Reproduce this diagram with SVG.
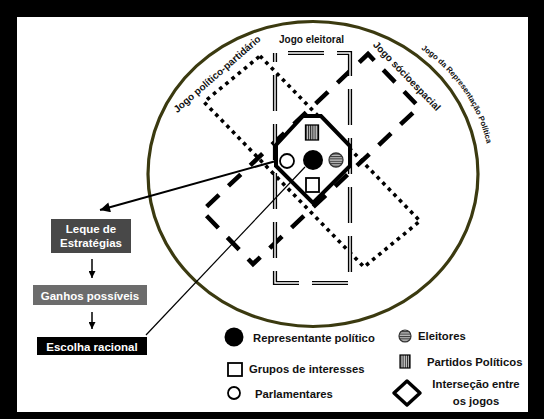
<svg xmlns="http://www.w3.org/2000/svg" width="544" height="419" viewBox="0 0 544 419">
<defs>
<style>
text{font-family:"Liberation Sans",Arial,sans-serif;font-weight:bold;fill:#111}
.lg{font-size:11.3px}
.box{font-size:11.5px;fill:#fff;text-anchor:middle}
.jogo{font-size:10px}
.ol{stroke:#000;fill:#fff;stroke-width:1.8}
</style>
<pattern id="hstripe" width="4" height="2.4" patternUnits="userSpaceOnUse">
<rect width="4" height="2.4" fill="#bbb"/><rect width="4" height="1" fill="#333"/>
</pattern>
<pattern id="vstripe" width="2.2" height="4" patternUnits="userSpaceOnUse">
<rect width="2.2" height="4" fill="#ccc"/><rect width="1" height="4" fill="#222"/>
</pattern>
<marker id="ah" viewBox="0 0 10 10" refX="10" refY="5" markerWidth="13" markerHeight="10" markerUnits="userSpaceOnUse" orient="auto">
<path d="M0,0 L10,5 L0,10 z" fill="#000"/>
</marker>
<marker id="ahs" viewBox="0 0 10 10" refX="10" refY="5" markerWidth="7" markerHeight="7" markerUnits="userSpaceOnUse" orient="auto">
<path d="M0,0 L10,5 L0,10 z" fill="#000"/>
</marker>
</defs>
<rect x="0" y="0" width="544" height="419" fill="#000"/>
<rect x="17" y="17" width="511" height="395" fill="#fff"/>

<g id="representacao">
<ellipse cx="313" cy="174" rx="165" ry="152.5" fill="none" stroke="#3b3a10" stroke-width="3.2"/>
<path id="arcpath" d="M421,49 A168 156 0 0 1 490,172" fill="none"/>
<text style="font-size:7.8px"><textPath href="#arcpath">Jogo da Representação Política</textPath></text>
</g>

<g id="jogo-partidario">
<path d="M260,56 L420,221 L364,267 L204,102 Z" fill="none" stroke="#000" stroke-width="3.6" stroke-dasharray="3.6 4.4"/>
<text class="jogo" text-anchor="middle" transform="translate(217,74) rotate(-41)" y="3.5">Jogo político-partidário</text>
</g>

<g id="jogo-socioespacial">
<path d="M368,54 L419,107 L253,264 L202,211 Z" fill="none" stroke="#000" stroke-width="4.5" stroke-dasharray="17 13" stroke-dashoffset="8"/>
<text class="jogo" text-anchor="middle" transform="translate(407,76) rotate(46)" y="3.5">Jogo sócioespacial</text>
</g>

<g id="jogo-eleitoral">
<path d="M275,53 H350 V283 H275 Z" fill="none" stroke="#000" stroke-width="4.2" stroke-dasharray="36 13" stroke-dashoffset="36"/>
<path d="M275,53 H350 V283 H275 Z" fill="none" stroke="#fff" stroke-width="1.4" stroke-dasharray="36 13" stroke-dashoffset="36"/>
<text class="jogo" x="311.5" y="43" text-anchor="middle">Jogo eleitoral</text>
</g>

<g id="intersecao">
<polygon points="303,116 321,116 350,146 350,166 313,203 276,166 276,145" fill="#fff" stroke="#000" stroke-width="4" stroke-linejoin="miter"/>
<rect x="305.5" y="125" width="13" height="15" fill="url(#vstripe)" stroke="#000" stroke-width="1.3"/>
<circle cx="313" cy="160" r="10" fill="#000"/>
<circle cx="287" cy="161" r="7" class="ol"/>
<circle cx="336" cy="160" r="7" fill="url(#hstripe)" stroke="#333" stroke-width="1.3"/>
<rect x="306" y="178" width="13" height="14" class="ol"/>
</g>

<g id="leque">
<rect x="51" y="219" width="80" height="34" fill="#484848"/>
<text class="box" x="91" y="233">Leque de</text>
<text class="box" x="91" y="247">Estratégias</text>
</g>
<g id="ganhos">
<rect x="33" y="285" width="114" height="20" fill="#6c6c6c"/>
<text class="box" x="90" y="299.5">Ganhos possíveis</text>
</g>
<g id="escolha">
<rect x="37" y="337" width="110" height="18" fill="#000"/>
<text class="box" x="92" y="350.5">Escolha racional</text>
</g>

<g id="connectors" stroke="#000" fill="none">
<line x1="276" y1="161" x2="100" y2="210" stroke-width="2" marker-end="url(#ah)"/>
<line x1="305" y1="167" x2="146" y2="335" stroke-width="1.2"/>
<line x1="92" y1="259" x2="92" y2="278" stroke-width="1.5" marker-end="url(#ahs)"/>
<line x1="92" y1="312" x2="92" y2="329" stroke-width="1.5" marker-end="url(#ahs)"/>
</g>

<g id="legenda">
<circle cx="234" cy="337" r="9.5" fill="#000"/>
<text class="lg" x="253" y="341.5">Representante político</text>
<circle cx="405" cy="336" r="6" fill="url(#hstripe)" stroke="#333" stroke-width="1.2"/>
<text class="lg" x="418" y="339.5">Eleitores</text>
<rect x="228" y="363" width="14" height="13" class="ol"/>
<text class="lg" x="249" y="372.5">Grupos de interesses</text>
<rect x="400" y="355" width="10" height="13" fill="url(#vstripe)" stroke="#000" stroke-width="1.2"/>
<text class="lg" x="427" y="365.5">Partidos Políticos</text>
<circle cx="234" cy="393" r="6" class="ol"/>
<text class="lg" x="255" y="397.5">Parlamentares</text>
<path d="M407,381 L420,393 L407,405 L394,393 Z" fill="#fff" stroke="#000" stroke-width="3.5" stroke-linejoin="round"/>
<text class="lg" x="476" y="388" text-anchor="middle">Interseção entre</text>
<text class="lg" x="476" y="405" text-anchor="middle">os jogos</text>
</g>
</svg>
